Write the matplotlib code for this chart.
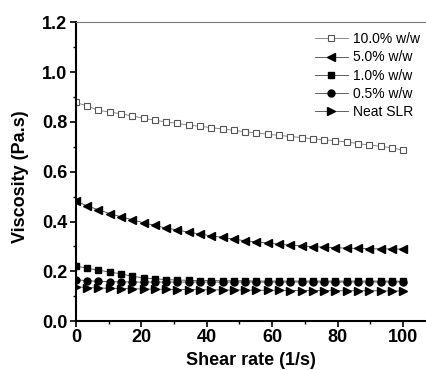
import numpy as np
import matplotlib.pyplot as plt

plt.rcParams['font.family'] = ['Liberation Sans', 'DejaVu Sans']

# shear rate points (30 readings from 0 to 100 1/s)
shear_rate = np.linspace(0, 100, 30)

# viscosity readings (Pa.s)
visc_10 = [0.878, 0.864, 0.846, 0.840, 0.832, 0.824, 0.815, 0.806, 0.800, 0.794,
           0.787, 0.782, 0.777, 0.771, 0.766, 0.760, 0.756, 0.750, 0.746, 0.741,
           0.737, 0.732, 0.728, 0.724, 0.719, 0.713, 0.707, 0.702, 0.696, 0.686]
visc_5 = [0.482, 0.463, 0.447, 0.432, 0.419, 0.407, 0.395, 0.384, 0.374, 0.366,
          0.357, 0.350, 0.342, 0.336, 0.329, 0.323, 0.318, 0.313, 0.309, 0.305,
          0.302, 0.299, 0.297, 0.295, 0.293, 0.292, 0.291, 0.290, 0.290, 0.289]
visc_1 = [0.222, 0.212, 0.205, 0.197, 0.190, 0.180, 0.174, 0.170, 0.167, 0.165,
          0.164, 0.163, 0.163, 0.162, 0.162, 0.162, 0.161, 0.161, 0.161, 0.161,
          0.161, 0.161, 0.161, 0.161, 0.161, 0.161, 0.161, 0.161, 0.161, 0.160]
visc_05 = [0.167, 0.162, 0.160, 0.158, 0.158, 0.157, 0.157, 0.157, 0.157, 0.157,
           0.157, 0.157, 0.157, 0.157, 0.157, 0.157, 0.157, 0.157, 0.157, 0.157,
           0.157, 0.157, 0.157, 0.157, 0.157, 0.157, 0.157, 0.157, 0.157, 0.157]
visc_neat = [0.138, 0.135, 0.133, 0.132, 0.131, 0.130, 0.129, 0.128, 0.128, 0.127,
             0.127, 0.126, 0.126, 0.125, 0.125, 0.125, 0.124, 0.124, 0.124, 0.123,
             0.123, 0.123, 0.123, 0.122, 0.122, 0.122, 0.122, 0.122, 0.121, 0.121]

labels = ['10.0% w/w', '5.0% w/w', '1.0% w/w', '0.5% w/w', 'Neat SLR']

fig = plt.figure(figsize=(4.26, 3.70), dpi=100)
ax = fig.add_axes([0.178, 0.132, 0.822, 0.808])

ax.plot(shear_rate, visc_10, color='#777777', lw=0.6, marker='s', ms=4.5,
        mfc='white', mec='#555555', mew=0.8, label=labels[0])
ax.plot(shear_rate, visc_5, color='#444444', lw=0.6, marker='<', ms=6,
        mfc='black', mec='black', label=labels[1])
ax.plot(shear_rate, visc_1, color='#444444', lw=0.6, marker='s', ms=5,
        mfc='black', mec='black', label=labels[2])
ax.plot(shear_rate, visc_05, color='#444444', lw=0.6, marker='o', ms=5,
        mfc='black', mec='black', label=labels[3])
ax.plot(shear_rate, visc_neat, color='#444444', lw=0.6, marker='>', ms=6,
        mfc='black', mec='black', label=labels[4])

ax.set_xlim(0, 107)
ax.set_ylim(0, 1.2)
ax.set_xticks([0, 20, 40, 60, 80, 100])
ax.set_xticks([10, 30, 50, 70, 90], minor=True)
ax.set_yticks([0.0, 0.2, 0.4, 0.6, 0.8, 1.0, 1.2])
ax.set_yticks([0.1, 0.3, 0.5, 0.7, 0.9, 1.1], minor=True)
ax.set_yticklabels(['0.0', '0.2', '0.4', '0.6', '0.8', '1.0', '1.2'])

ax.tick_params(which='major', direction='out', length=4, width=1.2,
               labelsize=13, pad=2)
ax.tick_params(which='minor', direction='out', length=2.5, width=1.0)
for lab in ax.get_xticklabels() + ax.get_yticklabels():
    lab.set_fontweight('bold')

ax.spines['left'].set_linewidth(1.5)
ax.spines['bottom'].set_linewidth(1.5)
ax.spines['top'].set_color('#777777')
ax.spines['top'].set_linewidth(0.8)
ax.spines['right'].set_visible(False)

ax.set_xlabel('Shear rate (1/s)', fontsize=13, fontweight='bold')
ax.xaxis.set_label_coords(0.5, -0.102)
ax.set_ylabel('Viscosity (Pa.s)', fontsize=13, fontweight='bold')
ax.yaxis.set_label_coords(-0.135, 0.482)

ax.legend(loc='upper right', frameon=False, fontsize=10, handlelength=2.4,
          handletextpad=0.4, labelspacing=0.3, borderaxespad=0.0,
          bbox_to_anchor=(1.0, 0.985))

fig.savefig('out.png', dpi=100)
